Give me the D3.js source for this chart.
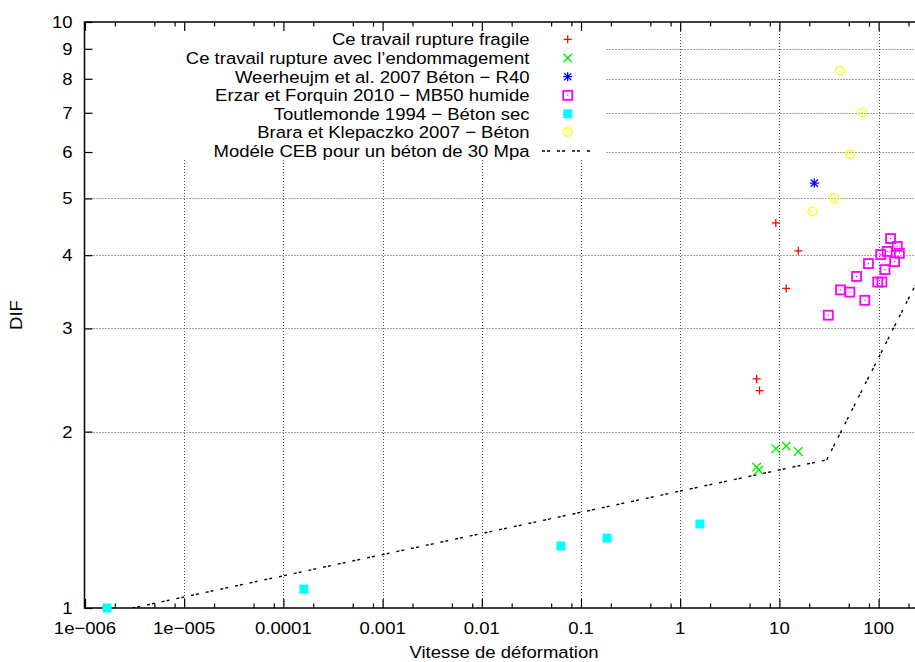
<!DOCTYPE html>
<html>
<head>
<meta charset="utf-8">
<script src="https://cdn.jsdelivr.net/npm/d3@7"></script>
<style>
  html, body { margin: 0; padding: 0; background: #fff; }
  svg { display: block; }
  text { font-family: "Liberation Sans", Arial, sans-serif; font-size: 17px; fill: #000; }
</style>
</head>
<body>
<svg id="chart" width="915" height="662"></svg>
<script>
// ---------------- data ----------------
const xTickVals = [1e-6, 1e-5, 1e-4, 1e-3, 0.01, 0.1, 1, 10, 100];
const xTickLabels = ["1e\u2212006", "1e\u2212005", "0.0001", "0.001", "0.01", "0.1", "1", "10", "100"];
const yTickVals = [1, 2, 3, 4, 5, 6, 7, 8, 9, 10];
const yTickLabels = ["1", "2", "3", "4", "5", "6", "7", "8", "9", "10"];

const seriesNames = [
  "Ce travail rupture fragile",
  "Ce travail rupture avec l\u2019endommagement",
  "Weerheujm et al. 2007 B\u00e9ton \u2212 R40",
  "Erzar et Forquin 2010 \u2212 MB50 humide",
  "Toutlemonde 1994 \u2212 B\u00e9ton sec",
  "Brara et Klepaczko 2007 \u2212 B\u00e9ton",
  "Mod\u00e9le CEB pour un b\u00e9ton de 30 Mpa"
];

const fragileX = [9.2, 15.5, 11.7, 5.9, 6.3];
const fragileY = [4.54, 4.07, 3.51, 2.46, 2.35];

const endomX = [9.2, 11.7, 15.5, 5.9, 6.2];
const endomY = [1.87, 1.89, 1.85, 1.74, 1.72];

const weerX = [22.5];
const weerY = [5.31];

const erzarX = [132, 154, 122, 162, 105, 79, 145, 116, 60, 98, 108, 41.3, 51.3, 72.6, 31.1];
const erzarY = [4.27, 4.14, 4.06, 4.03, 4.01, 3.87, 3.90, 3.78, 3.68, 3.60, 3.60, 3.49, 3.46, 3.35, 3.16];

const toutX = [1.67e-6, 1.61e-4, 0.0628, 0.183, 1.58];
const toutY = [1.0, 1.077, 1.276, 1.316, 1.391];

const braraX = [40.8, 68.5, 51.9, 35.8, 21.5];
const braraY = [8.26, 7.01, 5.95, 5.01, 4.75];

const cebX = [3e-6, 30, 300];
const cebY = [1.0, 1.79, 3.86];

// ---------------- layout ----------------
const SX = 1.09; // horizontal stretch of the glyphs in the reference
const pLeft = 84.5, pTop = 22, pBottom = 608, pRight = 925;
const x = d3.scaleLog().domain([1e-6, 1000]).range([85, 85 + 9 * 99.2]);
const y = d3.scaleLog().domain([1, 10]).range([608, 22]);

const svg = d3.select("#chart");

function txt(parent, px, py, s, anchor, rot) {
  return parent.append("text")
    .attr("transform", `translate(${px},${py})${rot ? ` rotate(${rot})` : ""} scale(${SX},1)`)
    .attr("text-anchor", anchor)
    .text(s);
}

// clip for plot area
svg.append("defs").append("clipPath").attr("id", "plotclip")
  .append("rect").attr("x", pLeft).attr("y", pTop).attr("width", pRight - pLeft).attr("height", pBottom - pTop);

// ---------------- grid ----------------
const grid = svg.append("g")
  .attr("stroke", "#444").attr("stroke-width", 1).attr("stroke-dasharray", "1,2").attr("fill", "none");
xTickVals.filter(v => v > 1e-6).forEach(v => {
  grid.append("line").attr("x1", Math.round(x(v)) + 0.5).attr("x2", Math.round(x(v)) + 0.5)
    .attr("y1", pTop).attr("y2", pBottom);
});
yTickVals.filter(v => v > 1 && v < 10).forEach(v => {
  grid.append("line").attr("x1", pLeft).attr("x2", pRight)
    .attr("y1", Math.round(y(v)) + 0.5).attr("y2", Math.round(y(v)) + 0.5);
});
// opaque key area
svg.append("rect").attr("x", pLeft + 1).attr("y", pTop + 1).attr("width", 605 - pLeft - 1).attr("height", 160 - pTop - 1)
  .attr("fill", "#fff");

// ---------------- axes ----------------
const xMinor = [];
for (let e = -6; e <= 2; e++) [2, 5, 8].forEach(m => xMinor.push(m * Math.pow(10, e)));

const axBottom = d3.axisBottom(x).tickValues(xTickVals).tickSize(-9).tickFormat("");
const axTop = d3.axisTop(x).tickValues(xTickVals).tickSize(-9).tickFormat("");
const axBottomMinor = d3.axisBottom(x).tickValues(xMinor).tickSize(-4.5).tickFormat("");
const axTopMinor = d3.axisTop(x).tickValues(xMinor).tickSize(-4.5).tickFormat("");
const axLeft = d3.axisLeft(y).tickValues(yTickVals).tickSize(-8).tickFormat("");

function styleAxis(g) {
  g.select(".domain").remove();
  g.selectAll("line").attr("stroke", "#000").attr("stroke-width", 1.2);
}
svg.append("g").attr("transform", `translate(0,${pBottom})`).call(axBottom).call(styleAxis);
svg.append("g").attr("transform", `translate(0,${pBottom})`).call(axBottomMinor).call(styleAxis);
svg.append("g").attr("transform", `translate(0,${pTop})`).call(axTop).call(styleAxis);
svg.append("g").attr("transform", `translate(0,${pTop})`).call(axTopMinor).call(styleAxis);
svg.append("g").attr("transform", `translate(${pLeft},0)`).call(axLeft).call(styleAxis);

// frame
svg.append("path")
  .attr("d", `M${pRight},${pTop}H${pLeft}V${pBottom}H${pRight}`)
  .attr("fill", "none").attr("stroke", "#000").attr("stroke-width", 1.5);

// tick labels
xTickVals.forEach((v, i) => txt(svg, x(v), 634, xTickLabels[i], "middle"));
yTickVals.forEach((v, i) => txt(svg, 72.5, y(v) + 6, yTickLabels[i], "end"));

// axis titles
txt(svg, 504, 658, "Vitesse de d\u00e9formation", "middle");
txt(svg, 22, 315, "DIF", "middle", -90);

// ---------------- symbols ----------------
function plus(g, cx, cy, color, r = 4) {
  g.append("path").attr("d", `M${cx - r},${cy}H${cx + r}M${cx},${cy - r}V${cy + r}`)
    .attr("stroke", color).attr("stroke-width", 1.3).attr("fill", "none");
}
function cross(g, cx, cy, color, r = 4.3) {
  g.append("path").attr("d", `M${cx - r},${cy - r}L${cx + r},${cy + r}M${cx - r},${cy + r}L${cx + r},${cy - r}`)
    .attr("stroke", color).attr("stroke-width", 1.3).attr("fill", "none");
}
function star(g, cx, cy, color) {
  plus(g, cx, cy, color, 4.5);
  cross(g, cx, cy, color, 3.6);
}
function boxDot(g, cx, cy, color) {
  g.append("rect").attr("x", cx - 4.5).attr("y", cy - 4.5).attr("width", 9).attr("height", 9)
    .attr("fill", "none").attr("stroke", color).attr("stroke-width", 1.8);
  g.append("rect").attr("x", cx - 0.6).attr("y", cy - 0.6).attr("width", 1.2).attr("height", 1.2).attr("fill", color);
}
function fillSq(g, cx, cy, color) {
  g.append("rect").attr("x", cx - 4.5).attr("y", cy - 4.5).attr("width", 9).attr("height", 9).attr("fill", color);
}
function circDot(g, cx, cy, color) {
  g.append("circle").attr("cx", cx).attr("cy", cy).attr("r", 4.3)
    .attr("fill", "none").attr("stroke", color).attr("stroke-width", 1.4);
  g.append("rect").attr("x", cx - 0.6).attr("y", cy - 0.6).attr("width", 1.2).attr("height", 1.2).attr("fill", color);
}

const series = [
  { xs: fragileX, ys: fragileY, color: "#ff0000", sym: plus },
  { xs: endomX, ys: endomY, color: "#00ee00", sym: cross },
  { xs: weerX, ys: weerY, color: "#0000ff", sym: star },
  { xs: erzarX, ys: erzarY, color: "#ff00ff", sym: boxDot },
  { xs: toutX, ys: toutY, color: "#00ffff", sym: fillSq },
  { xs: braraX, ys: braraY, color: "#ffff00", sym: circDot }
];

const dash = "3,2,3,7";

// CEB model line
svg.append("path")
  .attr("clip-path", "url(#plotclip)")
  .attr("d", d3.line().x(d => x(d[0])).y(d => y(d[1]))(cebX.map((v, i) => [v, cebY[i]])))
  .attr("fill", "none").attr("stroke", "#000").attr("stroke-width", 1.4).attr("stroke-dasharray", dash);

// points
series.forEach(s => {
  const g = svg.append("g");
  s.xs.forEach((v, i) => s.sym(g, x(v), y(s.ys[i]), s.color));
});

// ---------------- legend ----------------
const legY = [39.3, 58, 76.7, 95.3, 113.7, 132, 151];
const leg = svg.append("g");
seriesNames.forEach((name, i) => {
  txt(leg, 529.5, legY[i] + 6, name, "end");
  if (i < series.length) {
    series[i].sym(leg, 567.7, legY[i], series[i].color);
  } else {
    leg.append("line").attr("x1", 542).attr("x2", 592).attr("y1", legY[i]).attr("y2", legY[i])
      .attr("stroke", "#000").attr("stroke-width", 1.4).attr("stroke-dasharray", dash);
  }
});
</script>
</body>
</html>
